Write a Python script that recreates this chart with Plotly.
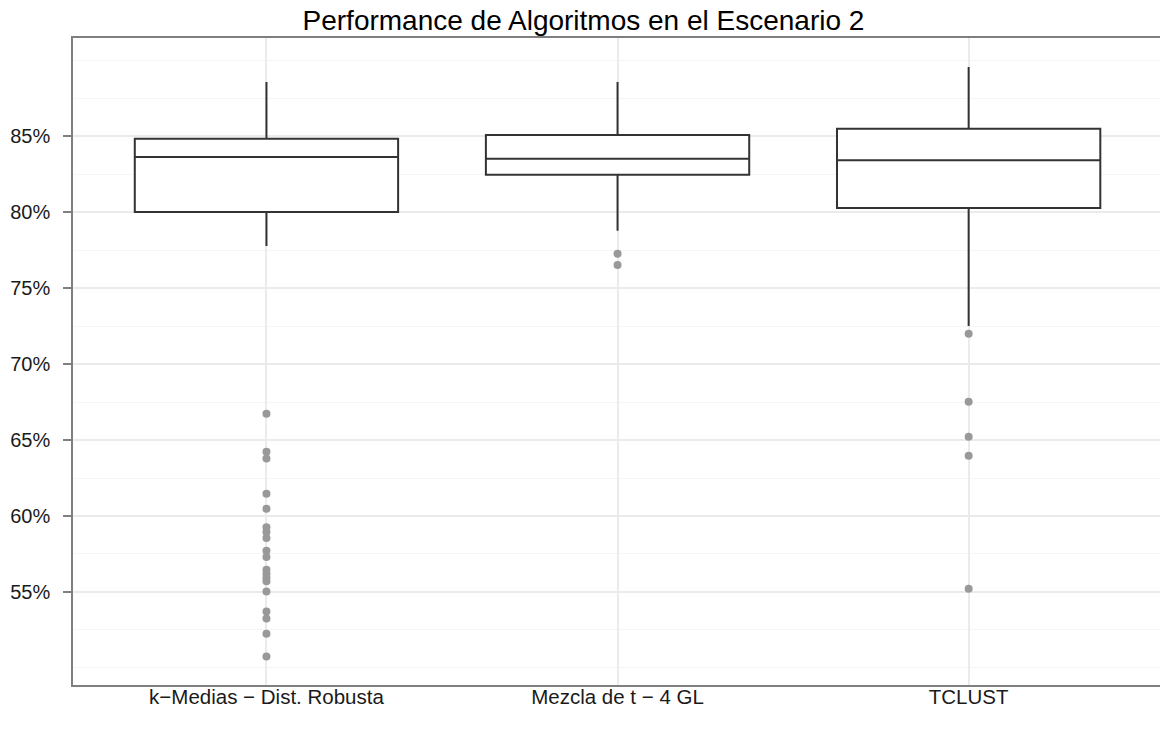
import plotly.graph_objects as go

categories = ["k\u2212Medias \u2212 Dist. Robusta", "Mezcla de t \u2212 4 GL", "TCLUST"]
q1 = [80.0, 82.45, 80.27]
median = [83.62, 83.5, 83.4]
q3 = [84.82, 85.07, 85.48]
lower_fence = [77.76, 78.76, 72.5]
upper_fence = [88.55, 88.55, 89.55]

outliers_k = [66.73, 64.23, 63.78, 61.47, 60.48, 59.26, 58.95, 58.55, 57.72, 57.3,
              56.47, 56.2, 55.94, 55.7, 55.04, 53.72, 53.26, 52.26, 50.76]
outliers_t = [77.26, 76.52]
outliers_tc = [71.99, 67.52, 65.22, 63.97, 55.22]

y_ticks = [55, 60, 65, 70, 75, 80, 85]
y_minor = [50, 52.5, 57.5, 62.5, 67.5, 72.5, 77.5, 82.5, 87.5, 90]

fig = go.Figure()

fig.add_trace(go.Box(
    x=categories, q1=q1, median=median, q3=q3,
    lowerfence=lower_fence, upperfence=upper_fence,
    boxpoints=False, width=0.75, whiskerwidth=0,
    fillcolor="white", line=dict(color="#333333", width=2),
    showlegend=False, hoverinfo="skip",
))

out_x = [categories[0]] * len(outliers_k) + [categories[1]] * len(outliers_t) + [categories[2]] * len(outliers_tc)
out_y = outliers_k + outliers_t + outliers_tc
fig.add_trace(go.Scatter(
    x=out_x, y=out_y, mode="markers",
    marker=dict(color="#999999", size=8, line=dict(width=0)),
    showlegend=False,
))

fig.update_layout(
    width=1160, height=729,
    margin=dict(l=73, r=0, t=38, b=44),
    paper_bgcolor="white", plot_bgcolor="white",
    font=dict(family="Liberation Sans, Arial, sans-serif", size=20, color="#1a1a1a"),
    title=dict(text="Performance de Algoritmos en el Escenario 2",
               xref="container", x=0.503, xanchor="center",
               yref="container", y=0.972, yanchor="middle",
               font=dict(size=28, color="black")),
)

fig.update_xaxes(
    type="category", categoryorder="array", categoryarray=categories,
    range=[-0.551, 2.545],
    showgrid=True, gridcolor="#ebebeb", gridwidth=1.5,
    showline=True, linecolor="#7f7f7f", linewidth=1.5, mirror=True,
    ticks="", ticklabelstandoff=-7,
    tickfont=dict(size=20.5, color="#1a1a1a"),
    zeroline=False,
)
fig.update_yaxes(
    range=[48.88, 91.45],
    tickvals=y_ticks, ticktext=[f"{v}%" for v in y_ticks],
    showgrid=True, gridcolor="#ebebeb", gridwidth=1.5,
    minor=dict(tickvals=y_minor, showgrid=True, gridcolor="#f5f5f5", gridwidth=1.2, ticks=""),
    showline=True, linecolor="#7f7f7f", linewidth=1.5,
    ticks="outside", ticklen=8, tickcolor="#7f7f7f", tickwidth=1.5,
    ticklabelstandoff=9,
    tickfont=dict(size=20, color="#1a1a1a"),
    zeroline=False,
)

fig.write_html("out.html")
